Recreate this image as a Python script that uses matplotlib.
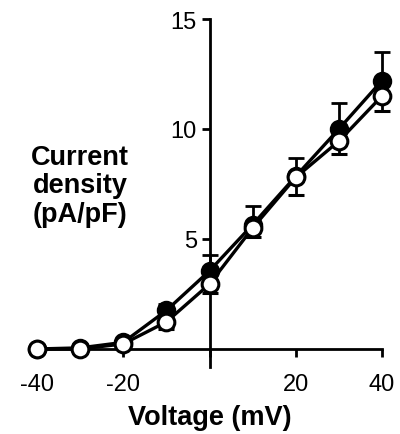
import matplotlib
matplotlib.use("Agg")
import matplotlib.pyplot as plt
import numpy as np

plt.rcParams['font.family'] = ['Liberation Sans', 'DejaVu Sans']

# data
voltage = [-40, -30, -20, -10, 0, 10, 20, 30, 40]
filled_mean = [0.0, 0.05, 0.3, 1.75, 3.55, 5.65, 7.85, 10.0, 12.2]
filled_err = [0.0, 0.0, 0.1, 0.3, 0.7, 0.85, 0.85, 1.2, 1.3]
open_mean = [0.0, 0.0, 0.23, 1.23, 2.95, 5.5, 7.8, 9.45, 11.5]
open_err = [0.0, 0.0, 0.1, 0.3, 0.4, 0.4, 0.8, 0.6, 0.7]

xticks = [-40, -20, 0, 20, 40]
xticklabels = ['-40', '-20', '', '20', '40']
yticks = [5, 10, 15]
yticklabels = ['5', '10', '15']

fig = plt.figure(figsize=(4, 4.35), dpi=100)
ax = fig.add_axes([0.0925, 0.155, 0.8625, 0.799])

zero = np.zeros(len(voltage))
# filled circles: upper error bars
ax.errorbar(voltage, filled_mean, yerr=[zero, filled_err], fmt='-o', color='black',
            mfc='black', mec='black', ms=12, mew=2, lw=2.4, elinewidth=2,
            capsize=5.5, capthick=2, zorder=3, clip_on=False)
# open circles: lower error bars
ax.errorbar(voltage, open_mean, yerr=[open_err, zero], fmt='-o', color='black',
            mfc='white', mec='black', ms=12, mew=2.2, lw=2.4, elinewidth=2,
            capsize=5.5, capthick=2, zorder=4, clip_on=False)

ax.set_xlim(-40, 40)
ax.set_ylim(-0.8, 15)

ax.spines['left'].set_position(('data', 0))
ax.spines['bottom'].set_position(('data', 0))
ax.spines['top'].set_visible(False)
ax.spines['right'].set_visible(False)
for s in ['left', 'bottom']:
    ax.spines[s].set_linewidth(2)

ax.set_xticks(xticks)
ax.set_xticklabels(xticklabels)
ax.set_yticks(yticks)
ax.set_yticklabels(yticklabels)
ax.tick_params(direction='out', length=6, width=2, labelsize=17, pad=3)
ax.tick_params(axis='x', pad=11)

ax.set_xlabel('Voltage (mV)', fontsize=19.5, fontweight='bold', labelpad=7)
fig.text(0.2, 0.572, 'Current\ndensity\n(pA/pF)', fontsize=19.5, fontweight='bold',
         ha='center', va='center', multialignment='center', linespacing=1.12)

fig.savefig('out.png', dpi=100)
